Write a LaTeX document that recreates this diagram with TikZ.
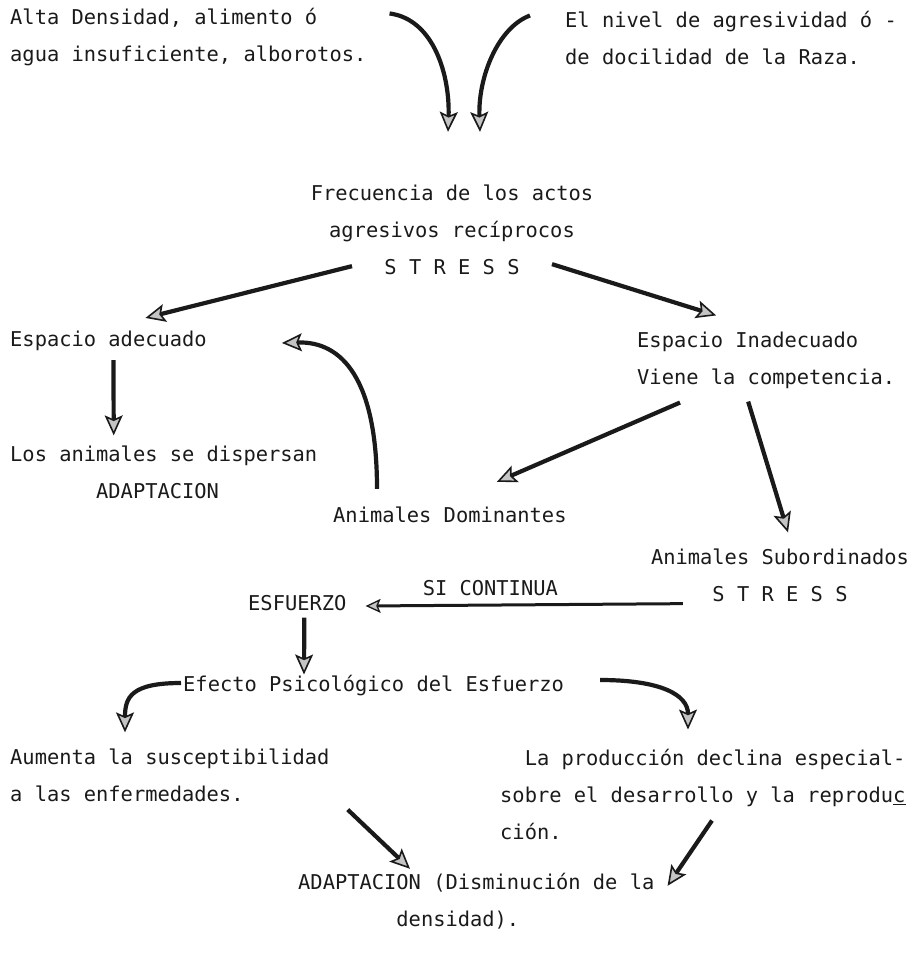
\documentclass[tikz,border=0pt]{standalone}
\usepackage{fontspec}
\setmonofont{DejaVu Sans Mono}
\usepackage{tikz}
\usetikzlibrary{
    arrows.meta
}
\definecolor{tinta}{HTML}{1A1A1A}
\definecolor{relleno}{HTML}{C4C4C4}
\tikzstyle{texto}=[
    inner sep=0pt,
    font=\ttfamily\fontsize{20.4}{37}\selectfont,
    text=tinta
]
\tikzstyle{flecha}=[
    line width=4.2pt,
    draw=tinta,
    -{Stealth[length=20pt,width=18pt,inset=4pt,fill=relleno,line width=1.6pt]}
]
\tikzstyle{flechafina}=[
    line width=3pt,
    draw=tinta,
    -{Stealth[length=15pt,width=14pt,inset=3pt,fill=relleno,line width=1.3pt]}
]

\begin{document}
\begin{tikzpicture}[x=1pt,y=-1pt]
\useasboundingbox (0,0) rectangle (914,971);
\node[texto,anchor=west,align=left] (causa) at (10,37.5) {Alta Densidad, alimento ó\\agua insuficiente, alborotos.};
\node[texto,anchor=west,align=left] (raza) at (565,37.5) {El nivel de agresividad ó -\\de docilidad de la Raza.};
\node[texto,align=center] (frec) at (452,230) {Frecuencia de los actos\\agresivos recíprocos\\S T R E S S};
\node[texto,anchor=west] (adecuado) at (10,341) {Espacio adecuado};
\node[texto,anchor=west,align=left] (dispersan) at (10,472) {Los animales se dispersan\\\phantom{Los ani}ADAPTACION};
\node[texto,anchor=west,align=left] (inadecuado) at (637,360) {Espacio Inadecuado\\Viene la competencia.};
\node[texto,anchor=west] (dominantes) at (333,515) {Animales Dominantes};
\node[texto,align=center] (subordinados) at (780,575) {Animales Subordinados\\S T R E S S};
\node[texto,anchor=west] (esfuerzo) at (248,603) {ESFUERZO};
\node[texto,anchor=west] (efecto) at (183,686) {Efecto Psicológico del Esfuerzo};
\node[texto,anchor=west,align=left] (aumenta) at (10,775) {Aumenta la susceptibilidad\\a las enfermedades.};
\node[texto,anchor=west,align=left] (produccion) at (500,794) {\phantom{so}La producción declina especial-\\sobre el desarrollo y la reprodu\underline{c}\\ción.};
\node[texto,anchor=west,align=left] (adapt) at (298,901) {ADAPTACION (Disminución de la\\\phantom{ADAPTACI}densidad).};

% causas hacia la frecuencia
\draw[flecha] ([xshift=23pt,yshift=-5pt]causa.north east) .. controls +(45,6) and +(2,-55) .. ([xshift=-4pt,yshift=53pt]frec.north);
\draw[flecha] ([xshift=-35pt,yshift=-5pt]raza.north west) .. controls +(-32,12) and +(-2,-55) .. ([xshift=28pt,yshift=53pt]frec.north);
% espacio
\draw[flecha] ([xshift=-100pt,yshift=9pt]frec.south) -- ([xshift=37pt,yshift=13pt]adecuado.north);
\draw[flecha] ([xshift=100pt,yshift=11pt]frec.south) -- ([xshift=-50pt,yshift=16pt]inadecuado.north);
\draw[flecha] ([xshift=5pt,yshift=-9pt]adecuado.south) -- ([xshift=-50pt,yshift=10pt]dispersan.north);
\draw[flecha] ([xshift=44pt,yshift=18pt]dominantes.north west) .. controls +(0,-110) and +(60,-2) .. ([xshift=75pt,yshift=-2pt]adecuado.east);
% competencia
\draw[flecha] ([xshift=43pt,yshift=-14pt]inadecuado.south west) -- ([xshift=47pt,yshift=25pt]dominantes.north);
\draw[flecha] ([xshift=-18pt,yshift=-13pt]inadecuado.south) -- ([xshift=8pt,yshift=16pt]subordinados.north);
\draw[flechafina] ([xshift=32pt,yshift=-2pt]subordinados.south west) -- node[texto,pos=0.607,above=8pt] (sicont) {SI CONTINUA} ([xshift=19pt,yshift=-3pt]esfuerzo.east);
% esfuerzo
\draw[flecha] ([xshift=7pt,yshift=-6.6pt]esfuerzo.south) -- ([xshift=121pt,yshift=1pt]efecto.north west);
\draw[flecha] ([xshift=-2pt,yshift=3pt]efecto.west) .. controls +(-50,0) and +(0,-35) .. ([xshift=115pt,yshift=16pt]aumenta.north west);
\draw[flecha] ([xshift=36pt,yshift=6pt]efecto.east) .. controls +(60,0) and +(0,-35) .. ([xshift=188pt,yshift=19pt]produccion.north west);
% adaptacion final
\draw[flecha] ([xshift=18pt,yshift=-8pt]aumenta.south east) -- ([xshift=112pt,yshift=4pt]adapt.north west);
\draw[flecha] ([xshift=212pt,yshift=19pt]produccion.south west) -- ([xshift=13pt,yshift=-13pt]adapt.north east);
\end{tikzpicture}
\end{document}
